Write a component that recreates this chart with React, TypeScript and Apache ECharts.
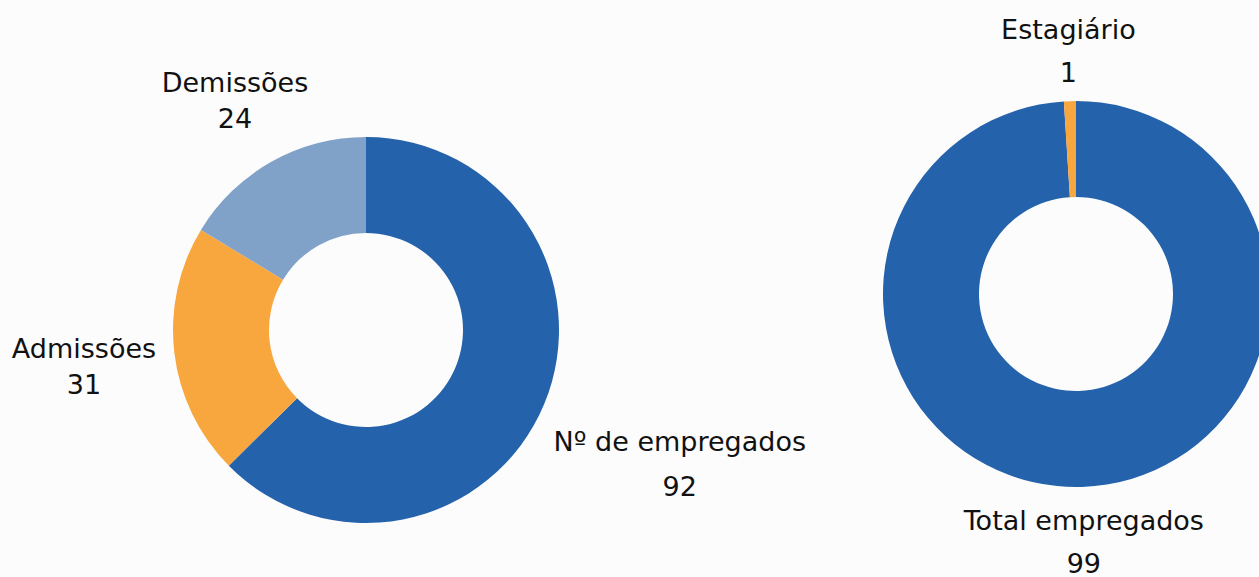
import React, { useEffect, useRef } from "react";
import * as echarts from "echarts";

const leftNames = ["Nº de empregados", "Admissões", "Demissões"];
const leftValues = [92, 31, 24];
const leftColors = ["#2462ab", "#f8a73f", "#80a1c8"];
const leftLabelDist = [340, 284, 267];
const leftLineHeights = [45, 36, 36];

const rightNames = ["Total empregados", "Estagiário"];
const rightValues = [99, 1];
const rightColors = ["#2462ab", "#f8a73f"];
const rightLabelDist = [249, 242];
const rightLineHeights = [43, 43];

const FONT = "'DejaVu Sans', 'Open Sans', sans-serif";

function makeSeries(
  names: string[],
  values: number[],
  colors: string[],
  dists: number[],
  lineHeights: number[],
  center: [number, number],
  shiftY: number
) {
  const total = values.reduce((a, b) => a + b, 0);
  const mids: number[] = [];
  let acc = 0;
  values.forEach((v) => {
    mids.push(((acc + v / 2) / total) * Math.PI * 2);
    acc += v;
  });
  return {
    type: "pie",
    center: [center[0], center[1]],
    radius: [97, 193],
    startAngle: 90,
    clockwise: true,
    avoidLabelOverlap: false,
    silent: true,
    label: {
      show: true,
      position: "outside",
      formatter: "{b}\n{c}",
      color: "#111",
      fontFamily: FONT,
      fontSize: 27,
      fontWeight: "normal",
    },
    labelLine: { show: false },
    labelLayout: (p: any) => {
      const i = p.dataIndex;
      const a = mids[i];
      return {
        x: center[0] + Math.sin(a) * dists[i],
        y: center[1] - Math.cos(a) * dists[i] + shiftY,
        align: "center",
        verticalAlign: "middle",
      };
    },
    data: names.map((n, i) => ({
      name: n,
      value: values[i],
      itemStyle: { color: colors[i] },
      label: { lineHeight: lineHeights[i] },
    })),
  };
}

export default function App() {
  const ref = useRef<HTMLDivElement>(null);
  useEffect(() => {
    if (!ref.current) return;
    const chart = echarts.init(ref.current, undefined, { renderer: "svg" });
    chart.setOption({
      animation: false,
      backgroundColor: "#fcfcfc",
      series: [
        makeSeries(leftNames, leftValues, leftColors, leftLabelDist, leftLineHeights, [366, 330], 3),
        makeSeries(rightNames, rightValues, rightColors, rightLabelDist, rightLineHeights, [1076, 294], -1),
      ],
    });
    return () => chart.dispose();
  }, []);
  return (
    <div
      ref={ref}
      style={{ position: "absolute", left: 0, top: 0, width: 1259, height: 577 }}
    />
  );
}
